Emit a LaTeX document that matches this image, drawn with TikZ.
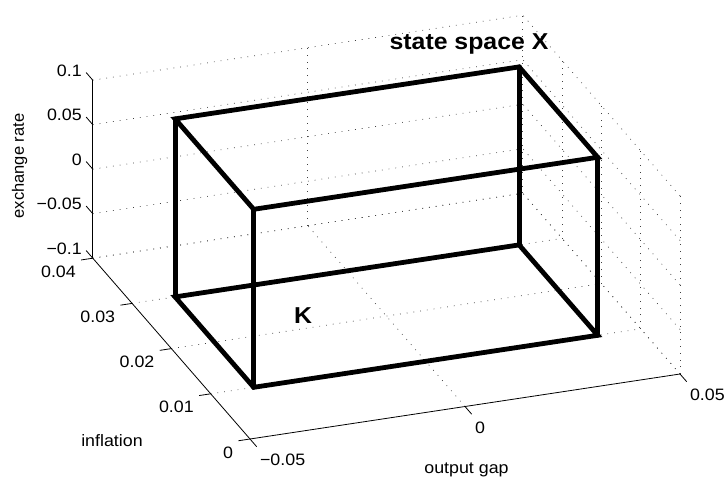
\documentclass[tikz,border=0pt]{standalone}
\usepackage{fontspec}
\setmainfont[FakeStretch=1.08]{Liberation Sans}
\newfontfamily\rotfont{Liberation Sans}
\begin{document}
\begin{tikzpicture}[x=1pt,y=-1pt,
  grid/.style={black!75,line width=0.7pt,dash pattern=on 0.8pt off 6pt},
  axisline/.style={black,line width=0.8pt},
  boxedge/.style={black,line width=4.8pt,line join=miter,line cap=round},
  ticklbl/.style={inner sep=0pt,font=\fontsize{16.5}{18}\selectfont},
  axlbl/.style={inner sep=0pt,font=\fontsize{16.5}{18}\selectfont},
  bigbold/.style={inner sep=0pt,font=\fontsize{23}{25}\selectfont\bfseries}]
\useasboundingbox (0,0) rectangle (725,481);
\begin{scope}[shift={(250pt,-439pt)},x={(43pt,6.5pt)},y={(-39.3pt,45.2pt)},z={(0pt,44.5pt)}]
  % grid: back wall (inflation = 0.04)
  \foreach \w in {0,...,4} \draw[grid] (0,4,\w) -- (10,4,\w);
  \foreach \u in {5,10} \draw[grid] (\u,4,0) -- (\u,4,4);
  % grid: right wall (output gap = 0.05)
  \foreach \w in {0,...,4} \draw[grid] (10,0,\w) -- (10,4,\w);
  \foreach \v in {0,...,4} \draw[grid] (10,\v,0) -- (10,\v,4);
  % grid: floor (exchange rate = -0.1)
  \foreach \u in {5,10} \draw[grid] (\u,0,0) -- (\u,4,0);
  \foreach \v in {1,...,4} \draw[grid] (0,\v,0) -- (10,\v,0);
  % axes
  \coordinate (O) at (0,0,0);
  \coordinate (Xend) at (10,0,0);
  \coordinate (Yend) at (0,4,0);
  \coordinate (Zend) at (0,4,4);
  \draw[axisline] (O) -- (Xend);
  \draw[axisline] (O) -- (Yend);
  \draw[axisline] (Yend) -- (Zend);
  % z ticks
  \foreach \w/\lab in {0/−0.1,1/−0.05,2/0,3/0.05,4/0.1}
    \draw[axisline] (0,4,\w) -- (0,4.17,\w)
      node[ticklbl,anchor=east,xshift=-4pt,yshift=2pt] (zt\w) {\lab};
  % inflation ticks
  \foreach \v/\lab in {0/0,1/0.01,2/0.02,3/0.03,4/0.04}
    \draw[axisline] (0,\v,0) -- (-0.27,\v,0)
      node[ticklbl,anchor=north east,xshift=-5pt,yshift=-5.5pt] (yt\v) {\lab};
  % output gap ticks
  \foreach \u/\lab in {0/−0.05,5/0,10/0.05}
    \draw[axisline] (\u,0,0) -- (\u,-0.17,0)
      node[ticklbl,anchor=north west,xshift=3pt,yshift=-7pt] (xt\u) {\lab};
  % box corners
  \coordinate (FLB) at (1,1,0);
  \coordinate (FRB) at (9,1,0);
  \coordinate (BRB) at (9,3,0);
  \coordinate (BLB) at (1,3,0);
  \coordinate (FLT) at (1,1,4);
  \coordinate (FRT) at (9,1,4);
  \coordinate (BRT) at (9,3,4);
  \coordinate (BLT) at (1,3,4);
  \draw[boxedge] (FLB) -- (FRB) -- (BRB) -- (BLB) -- cycle;
  \draw[boxedge] (FLT) -- (FRT) -- (BRT) -- (BLT) -- cycle;
  \draw[boxedge] (FLB) -- (FLT);
  \draw[boxedge] (FRB) -- (FRT);
  \draw[boxedge] (BRB) -- (BRT);
  \draw[boxedge] (BLB) -- (BLT);
\end{scope}
\node[axlbl,rotate=90] (zlab) at (19.5,166) {\rotfont exchange rate};
\node[axlbl] (ylab) at (112,441) {inflation};
\node[axlbl] (xlab) at (466.5,469.5) {output gap};
\node[bigbold] (title) at (469,44) {state space X};
\node[bigbold] (klab) at (303,316) {K};
\end{tikzpicture}
\end{document}
